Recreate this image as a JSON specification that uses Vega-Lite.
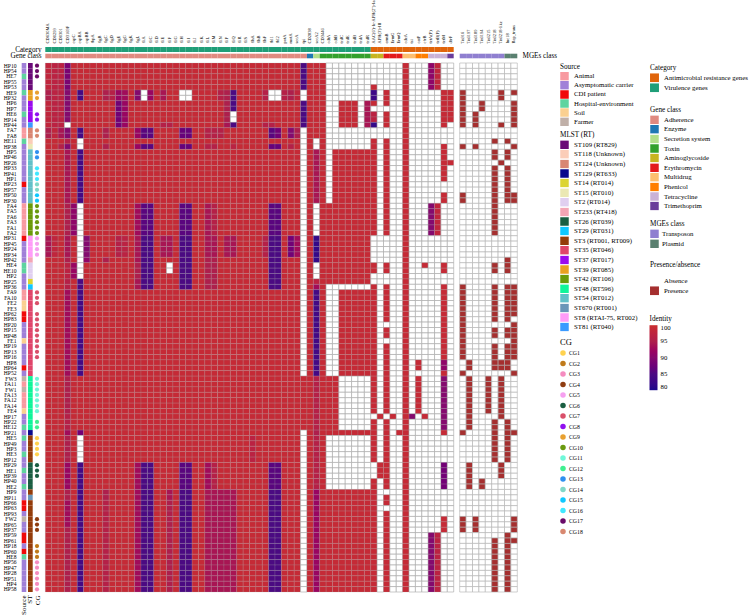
{"$schema":"https://vega.github.io/schema/vega-lite/v6.json","width":750,"height":616,"padding":0,"autosize":{"type":"none"},"background":"white",
"config":{"view":{"stroke":null},"axis":{"domain":false,"ticks":false,"grid":false,"labelFont":"Liberation Serif","labelColor":"#000","title":null,"labelPadding":0,"labelOverlap":false,"labelBound":false,"labelFlush":false},"legend":{"orient":"none","titleFont":"Liberation Serif","labelFont":"Liberation Serif","titleFontWeight":"normal","titleFontSize":7.2,"titleColor":"#000","labelColor":"#000","labelFontSize":6.8,"labelLimit":200,"symbolStrokeWidth":0,"symbolOpacity":1,"titlePadding":2,"labelOffset":5,"clipHeight":9,"padding":0}},
"datasets":{
"genes":[{"i":1,"g":"CD630MA","cat":"Virulence genes","cls":"Adherence"},{"i":2,"g":"CD0299","cat":"Virulence genes","cls":"Adherence"},{"i":3,"g":"CD0301","cat":"Virulence genes","cls":"Adherence"},{"i":4,"g":"CD3169F","cat":"Virulence genes","cls":"Adherence"},{"i":5,"g":"cspC","cat":"Virulence genes","cls":"Adherence"},{"i":6,"g":"cspBA","cat":"Virulence genes","cls":"Adherence"},{"i":7,"g":"cspBB","cat":"Virulence genes","cls":"Adherence"},{"i":8,"g":"fbpA","cat":"Virulence genes","cls":"Adherence"},{"i":9,"g":"flgB","cat":"Virulence genes","cls":"Adherence"},{"i":10,"g":"flgC","cat":"Virulence genes","cls":"Adherence"},{"i":11,"g":"flgD","cat":"Virulence genes","cls":"Adherence"},{"i":12,"g":"flgE","cat":"Virulence genes","cls":"Adherence"},{"i":13,"g":"flgG","cat":"Virulence genes","cls":"Adherence"},{"i":14,"g":"flgK","cat":"Virulence genes","cls":"Adherence"},{"i":15,"g":"flgL","cat":"Virulence genes","cls":"Adherence"},{"i":16,"g":"fliA","cat":"Virulence genes","cls":"Adherence"},{"i":17,"g":"fliC","cat":"Virulence genes","cls":"Adherence"},{"i":18,"g":"fliD","cat":"Virulence genes","cls":"Adherence"},{"i":19,"g":"fliE","cat":"Virulence genes","cls":"Adherence"},{"i":20,"g":"fliF","cat":"Virulence genes","cls":"Adherence"},{"i":21,"g":"fliG","cat":"Virulence genes","cls":"Adherence"},{"i":22,"g":"fliH","cat":"Virulence genes","cls":"Adherence"},{"i":23,"g":"fliI","cat":"Virulence genes","cls":"Adherence"},{"i":24,"g":"fliJ","cat":"Virulence genes","cls":"Adherence"},{"i":25,"g":"fliK","cat":"Virulence genes","cls":"Adherence"},{"i":26,"g":"fliL","cat":"Virulence genes","cls":"Adherence"},{"i":27,"g":"fliM","cat":"Virulence genes","cls":"Adherence"},{"i":28,"g":"fliN","cat":"Virulence genes","cls":"Adherence"},{"i":29,"g":"fliP","cat":"Virulence genes","cls":"Adherence"},{"i":30,"g":"fliQ","cat":"Virulence genes","cls":"Adherence"},{"i":31,"g":"fliR","cat":"Virulence genes","cls":"Adherence"},{"i":32,"g":"fliS","cat":"Virulence genes","cls":"Adherence"},{"i":33,"g":"flhA","cat":"Virulence genes","cls":"Adherence"},{"i":34,"g":"flhB","cat":"Virulence genes","cls":"Adherence"},{"i":35,"g":"flhF","cat":"Virulence genes","cls":"Adherence"},{"i":36,"g":"fbl1","cat":"Virulence genes","cls":"Adherence"},{"i":37,"g":"fbl2","cat":"Virulence genes","cls":"Adherence"},{"i":38,"g":"potA","cat":"Virulence genes","cls":"Adherence"},{"i":39,"g":"motA","cat":"Virulence genes","cls":"Adherence"},{"i":40,"g":"secA","cat":"Virulence genes","cls":"Adherence"},{"i":41,"g":"tpi","cat":"Virulence genes","cls":"Adherence"},{"i":42,"g":"CD2838","cat":"Virulence genes","cls":"Enzyme"},{"i":43,"g":"secA2","cat":"Virulence genes","cls":"Secretion system"},{"i":44,"g":"CD3446","cat":"Virulence genes","cls":"Toxin"},{"i":45,"g":"cdtA","cat":"Virulence genes","cls":"Toxin"},{"i":46,"g":"cdtB","cat":"Virulence genes","cls":"Toxin"},{"i":47,"g":"tcdC","cat":"Virulence genes","cls":"Toxin"},{"i":48,"g":"tcdE","cat":"Virulence genes","cls":"Toxin"},{"i":49,"g":"tcdB","cat":"Virulence genes","cls":"Toxin"},{"i":50,"g":"tcdA","cat":"Virulence genes","cls":"Toxin"},{"i":51,"g":"tcdR","cat":"Virulence genes","cls":"Toxin"},{"i":52,"g":"AAC(6')-Ie-APH(2'')-Ia","cat":"Antimicrobial resistance genes","cls":"Aminoglycoside"},{"i":53,"g":"APH(3')-III","cat":"Antimicrobial resistance genes","cls":"Aminoglycoside"},{"i":54,"g":"ermB","cat":"Antimicrobial resistance genes","cls":"Erythromycin"},{"i":55,"g":"ErmG","cat":"Antimicrobial resistance genes","cls":"Erythromycin"},{"i":56,"g":"ErmQ","cat":"Antimicrobial resistance genes","cls":"Erythromycin"},{"i":57,"g":"cdeA","cat":"Antimicrobial resistance genes","cls":"Multidrug"},{"i":58,"g":"tsi","cat":"Antimicrobial resistance genes","cls":"Multidrug"},{"i":59,"g":"catP","cat":"Antimicrobial resistance genes","cls":"Phenicol"},{"i":60,"g":"cfrB","cat":"Antimicrobial resistance genes","cls":"Phenicol"},{"i":61,"g":"tetA(P)","cat":"Antimicrobial resistance genes","cls":"Tetracycline"},{"i":62,"g":"tetB(P)","cat":"Antimicrobial resistance genes","cls":"Tetracycline"},{"i":63,"g":"tetM","cat":"Antimicrobial resistance genes","cls":"Tetracycline"},{"i":64,"g":"dfrF","cat":"Antimicrobial resistance genes","cls":"Trimethoprim"}],
"mges":[{"i":1,"g":"Tn916","mge":"Transposon"},{"i":2,"g":"Tn6197","mge":"Transposon"},{"i":3,"g":"Tn6189","mge":"Transposon"},{"i":4,"g":"Tn6194","mge":"Transposon"},{"i":5,"g":"Tn6215","mge":"Transposon"},{"i":6,"g":"Tn6218","mge":"Transposon"},{"i":7,"g":"Tn6218-like","mge":"Transposon"},{"i":8,"g":"Inc18","mge":"Plasmid"},{"i":9,"g":"Rep_trans","mge":"Plasmid"}],
"samples":[
{"s":"HP10","src":"Asymptomatic carrier","st":"ST109 (RT829)","cg":"CG17","h":[98,97,97,89,99,99,99,99,99,99,99,99,99,99,99,99,99,99,99,99,99,99,99,99,99,99,99,99,99,99,99,99,99,99,99,99,99,99,99,99,85,99,99,99,0,0,0,0,0,0,0,0,0,0,0,0,99,0,0,0,91,98,0,0],"p":[0,0,0,0,0,0,0,0,0]},
{"s":"HP54","src":"Asymptomatic carrier","st":"ST109 (RT829)","cg":"CG17","h":[98,97,97,89,99,99,99,99,99,99,99,99,99,99,99,99,99,99,99,99,99,99,99,99,99,99,99,99,99,99,99,99,99,99,99,99,99,99,99,99,85,99,99,99,0,0,0,0,0,0,0,0,0,0,0,0,99,0,0,0,91,98,0,0],"p":[0,0,0,0,0,0,0,0,0]},
{"s":"HE7","src":"Hospital-environment","st":"ST109 (RT829)","cg":"CG17","h":[98,97,97,89,99,99,99,99,99,99,99,99,99,99,99,99,99,99,99,99,99,99,99,99,99,99,99,99,99,99,99,99,99,99,99,99,99,99,99,99,85,99,99,99,0,0,0,0,0,0,0,0,0,0,0,0,99,0,0,0,91,98,0,0],"p":[0,0,0,0,0,0,0,0,0]},
{"s":"HP55","src":"Asymptomatic carrier","st":"ST109 (RT829)","cg":"","h":[98,97,97,89,99,99,99,99,99,99,99,99,99,99,99,99,99,99,99,99,99,99,99,99,99,99,99,99,99,99,99,99,99,99,99,99,99,99,99,99,85,99,99,99,0,0,0,0,0,0,0,0,0,0,0,0,99,0,0,0,91,98,0,0],"p":[0,0,0,0,0,0,0,0,0]},
{"s":"HP53","src":"Asymptomatic carrier","st":"ST109 (RT829)","cg":"","h":[98,97,97,89,99,99,99,99,99,99,99,99,99,99,99,99,99,99,99,99,99,99,99,99,99,99,99,99,99,99,99,99,99,99,99,99,99,99,99,99,85,99,99,99,0,0,0,0,0,0,0,99,0,0,0,0,99,0,0,0,91,98,0,0],"p":[0,0,0,0,0,0,0,0,0]},
{"s":"HE9","src":"Hospital-environment","st":"ST39 (RT085)","cg":"CG9","h":[95,97,97,90,99,84,99,99,99,95,96,92,93,99,90,0,92,99,94,99,99,0,0,99,99,99,99,96,95,85,99,99,99,99,96,0,0,96,95,98,0,99,99,99,0,0,0,0,0,0,0,83,0,99,0,0,99,0,0,0,0,0,99,99],"p":[1,0,0,0,0,0,1,0,1]},
{"s":"HP32","src":"Asymptomatic carrier","st":"ST39 (RT085)","cg":"CG9","h":[95,97,97,90,99,84,99,99,99,95,96,92,93,99,90,0,92,99,94,99,99,0,0,99,99,99,99,96,95,85,99,99,99,99,96,0,0,96,95,98,0,99,99,99,0,0,0,0,0,0,0,83,0,99,0,0,99,0,0,0,0,0,99,99],"p":[1,0,0,0,0,0,1,0,0]},
{"s":"HP6","src":"Asymptomatic carrier","st":"ST37 (RT017)","cg":"","h":[98,97,97,90,99,99,99,99,99,99,99,88,92,99,99,99,99,99,99,99,99,99,99,99,99,99,99,99,95,85,99,99,99,99,99,99,99,99,99,99,85,99,99,99,0,0,99,99,99,0,94,99,0,99,0,0,99,0,0,0,0,0,99,99],"p":[1,0,0,1,0,0,0,0,1]},
{"s":"HP7","src":"Asymptomatic carrier","st":"ST37 (RT017)","cg":"","h":[98,97,97,90,99,99,99,99,99,99,99,88,92,99,99,99,99,99,99,99,99,99,99,99,99,99,99,99,95,85,99,99,99,99,99,99,99,99,99,99,85,99,99,99,0,0,99,99,99,0,94,0,0,0,0,0,99,0,0,0,0,0,99,99],"p":[1,0,0,1,0,0,0,0,1]},
{"s":"HE6","src":"Hospital-environment","st":"ST37 (RT017)","cg":"CG8","h":[98,97,97,90,99,99,99,99,99,99,99,88,92,99,99,99,99,99,99,99,99,99,99,99,99,99,99,99,95,0,99,99,99,99,99,99,99,99,99,99,85,99,99,99,0,0,99,99,99,0,94,97,0,99,0,0,99,0,0,0,0,0,99,99],"p":[1,0,1,0,0,0,0,0,1]},
{"s":"HP14","src":"Asymptomatic carrier","st":"ST37 (RT017)","cg":"CG8","h":[98,97,97,90,99,99,99,99,99,99,99,88,92,99,99,99,99,99,99,99,99,99,99,99,99,99,99,99,95,0,99,99,99,99,99,99,99,99,99,99,85,99,99,99,0,0,99,99,99,0,94,97,0,99,0,0,99,0,0,0,0,0,99,99],"p":[1,0,1,0,0,0,0,0,1]},
{"s":"HP44","src":"Asymptomatic carrier","st":"ST81 (RT040)","cg":"","h":[98,97,97,0,99,99,99,99,99,99,99,88,92,99,99,99,99,99,96,96,99,99,99,99,99,99,99,99,94,85,99,99,99,99,96,96,99,99,99,99,85,99,99,99,0,0,99,99,99,0,94,82,0,99,0,0,99,0,0,0,0,0,99,0],"p":[1,0,1,0,0,0,1,0,1]},
{"s":"FA7","src":"Animal","st":"ST124 (Unknown)","cg":"CG18","h":[95,98,94,90,99,84,99,99,99,95,99,99,99,99,92,86,86,99,99,99,99,87,87,99,99,96,96,96,99,99,99,99,99,99,99,86,88,99,90,95,0,99,99,99,0,0,0,0,0,0,0,0,0,0,0,0,99,0,0,0,0,0,0,0],"p":[0,0,0,0,0,0,0,0,0]},
{"s":"FA8","src":"Animal","st":"ST124 (Unknown)","cg":"CG18","h":[95,98,94,90,99,84,99,99,99,95,99,99,99,99,92,86,86,99,99,99,99,87,87,99,99,96,96,96,99,99,99,99,99,99,99,86,88,99,90,95,0,99,99,99,0,0,0,0,0,0,0,0,0,0,0,0,99,0,0,0,0,0,0,0],"p":[0,0,0,0,0,0,0,0,0]},
{"s":"HE11","src":"Hospital-environment","st":"ST118 (Unknown)","cg":"","h":[99,99,99,96,99,0,99,99,99,99,99,99,99,99,99,99,99,99,99,99,99,99,99,99,99,99,99,99,99,99,99,99,99,99,99,99,99,99,99,99,0,99,0,99,0,0,0,0,0,0,0,99,0,99,0,0,99,0,0,0,0,0,0,0],"p":[0,0,0,0,0,1,0,1,0]},
{"s":"HP38","src":"Asymptomatic carrier","st":"ST15 (RT010)","cg":"","h":[99,99,96,90,99,0,99,99,99,95,99,99,99,99,92,86,86,99,99,99,99,87,87,99,99,96,96,99,99,97,99,99,99,99,99,87,87,99,96,99,0,99,0,99,0,0,0,0,0,0,0,99,0,99,0,0,99,0,0,0,0,0,99,0],"p":[1,0,1,0,0,0,0,0,1]},
{"s":"HP5","src":"Asymptomatic carrier","st":"ST54 (RT012)","cg":"CG13","h":[99,99,99,94,99,84,99,99,99,99,99,99,99,99,99,99,99,99,99,99,99,99,99,99,99,99,99,99,99,99,99,99,99,99,99,99,99,99,99,99,0,99,94,99,0,99,99,99,99,99,99,99,0,99,0,0,99,0,0,0,0,0,99,0],"p":[0,0,0,0,0,1,0,1,0]},
{"s":"HP46","src":"Asymptomatic carrier","st":"ST54 (RT012)","cg":"CG13","h":[99,99,99,94,99,84,99,99,99,99,99,99,99,99,99,99,99,99,99,99,99,99,99,99,99,99,99,99,99,99,99,99,99,99,99,99,99,99,99,99,0,99,94,99,0,99,99,99,99,99,99,99,0,99,0,0,99,0,0,0,0,0,99,0],"p":[0,0,0,0,0,1,0,1,0]},
{"s":"HP26","src":"Asymptomatic carrier","st":"ST54 (RT012)","cg":"","h":[99,99,99,94,99,84,99,99,99,99,99,99,99,99,99,99,99,99,99,99,99,99,99,99,99,99,99,99,99,99,99,99,99,99,99,99,99,99,99,99,0,99,94,99,0,99,99,99,99,99,99,99,0,99,0,0,99,0,0,0,0,0,99,99],"p":[0,0,0,0,0,0,1,0,0]},
{"s":"HP33","src":"Asymptomatic carrier","st":"ST54 (RT012)","cg":"CG16","h":[99,99,99,94,99,84,99,99,99,99,99,99,99,99,99,99,99,99,99,99,99,99,99,99,99,99,99,99,99,99,99,99,99,99,99,99,99,99,99,99,0,99,94,99,0,99,99,99,99,99,99,99,0,99,0,0,99,0,0,0,0,0,99,0],"p":[0,0,0,0,0,1,0,1,0]},
{"s":"HP41","src":"Asymptomatic carrier","st":"ST54 (RT012)","cg":"CG16","h":[99,99,99,94,99,84,99,99,99,99,99,99,99,99,99,99,99,99,99,99,99,99,99,99,99,99,99,99,99,99,99,99,99,99,99,99,99,99,99,99,0,99,94,99,0,99,99,99,99,99,99,99,0,99,0,0,99,0,0,0,0,0,99,0],"p":[0,0,0,0,0,1,0,1,0]},
{"s":"HP1","src":"Asymptomatic carrier","st":"ST54 (RT012)","cg":"CG16","h":[99,99,99,94,99,84,99,99,99,99,99,99,99,99,99,99,99,99,99,99,99,99,99,99,99,99,99,99,99,99,99,99,99,99,99,99,99,99,99,99,0,99,94,99,0,99,99,99,99,99,99,99,0,99,0,0,99,0,0,0,0,0,99,0],"p":[0,0,0,0,0,1,0,1,0]},
{"s":"HP23","src":"CDI patient","st":"ST54 (RT012)","cg":"CG14","h":[99,99,99,94,99,84,99,99,99,99,99,99,99,99,99,99,99,99,99,99,99,99,99,99,99,99,99,99,99,99,99,99,99,99,99,99,99,99,99,99,0,99,94,99,0,99,99,99,99,99,99,99,0,99,0,0,99,0,0,0,0,0,0,0],"p":[0,0,0,0,0,1,0,1,0]},
{"s":"HP57","src":"Asymptomatic carrier","st":"ST54 (RT012)","cg":"CG14","h":[99,99,99,94,99,84,99,99,99,99,99,99,99,99,99,99,99,99,99,99,99,99,99,99,99,99,99,99,99,99,99,99,99,99,99,99,99,99,99,99,0,99,94,99,0,99,99,99,99,99,99,99,0,99,0,0,99,0,0,0,0,0,0,0],"p":[0,0,0,0,0,1,0,1,0]},
{"s":"HP50","src":"Asymptomatic carrier","st":"ST54 (RT012)","cg":"CG15","h":[99,99,99,94,99,84,99,99,99,99,99,99,99,99,99,99,99,99,99,99,99,99,99,99,99,99,99,99,99,99,99,99,99,99,99,99,99,99,99,99,0,99,94,99,0,99,99,99,99,99,99,99,0,99,0,0,99,0,0,0,0,0,99,0],"p":[1,0,0,0,0,1,0,1,1]},
{"s":"HP30","src":"Asymptomatic carrier","st":"ST54 (RT012)","cg":"CG15","h":[99,99,99,94,99,84,99,99,99,99,99,99,99,99,99,99,99,99,99,99,99,99,99,99,99,99,99,99,99,99,99,99,99,99,99,99,99,99,99,99,0,99,94,99,0,99,99,99,99,99,99,99,0,99,0,0,99,0,0,0,0,0,99,0],"p":[1,0,0,0,0,1,0,1,1]},
{"s":"FA4","src":"Animal","st":"ST42 (RT106)","cg":"CG10","h":[99,99,99,95,91,0,99,99,99,99,99,99,99,99,93,86,86,99,99,99,99,86,86,99,99,94,96,99,99,99,99,99,99,99,99,86,86,99,99,99,0,99,0,99,99,99,99,99,99,99,99,99,0,99,0,0,99,0,0,0,90,98,0,0],"p":[0,0,0,0,0,1,0,0,0]},
{"s":"FA5","src":"Animal","st":"ST42 (RT106)","cg":"CG10","h":[99,99,99,95,91,0,99,99,99,99,99,99,99,99,93,86,86,99,99,99,99,86,86,99,99,94,96,99,99,99,99,99,99,99,99,86,86,99,99,99,0,99,0,99,99,99,99,99,99,99,99,99,0,99,0,0,99,0,0,0,90,98,0,0],"p":[0,0,0,0,0,1,0,0,0]},
{"s":"FA6","src":"Animal","st":"ST42 (RT106)","cg":"CG10","h":[99,99,99,95,91,0,99,99,99,99,99,99,99,99,93,86,86,99,99,99,99,86,86,99,99,94,96,99,99,99,99,99,99,99,99,86,86,99,99,99,0,99,0,99,99,99,99,99,99,99,99,99,0,99,0,0,99,0,0,0,90,98,0,0],"p":[0,0,0,0,0,1,0,0,0]},
{"s":"FA3","src":"Animal","st":"ST42 (RT106)","cg":"CG10","h":[99,99,99,95,91,0,99,99,99,99,99,99,99,99,93,86,86,99,99,99,99,86,86,99,99,94,96,99,99,99,99,99,99,99,99,86,86,99,99,99,0,99,0,99,99,99,99,99,99,99,99,99,0,99,0,0,99,0,0,0,90,98,0,0],"p":[0,0,0,0,0,1,0,0,0]},
{"s":"FA1","src":"Animal","st":"ST42 (RT106)","cg":"CG10","h":[99,99,99,95,91,0,99,99,99,99,99,99,99,99,93,86,86,99,99,99,99,86,86,99,99,94,96,99,99,99,99,99,99,99,99,86,86,99,99,99,0,99,0,99,99,99,99,99,99,99,99,99,0,99,0,0,99,0,0,0,90,98,0,0],"p":[0,0,0,0,0,1,0,0,0]},
{"s":"FA2","src":"Animal","st":"ST42 (RT106)","cg":"CG10","h":[99,99,99,95,91,0,99,99,99,99,99,99,99,99,93,86,86,99,99,99,99,86,86,99,99,94,96,99,99,99,99,99,99,99,99,86,86,99,99,99,0,99,0,99,99,99,99,99,99,99,99,99,0,99,0,0,99,0,0,0,90,98,0,0],"p":[0,0,0,0,0,1,0,0,0]},
{"s":"HP31","src":"CDI patient","st":"ST8 (RTAI-75, RT002)","cg":"CG5","h":[94,98,99,94,99,0,90,99,99,99,99,96,97,99,94,85,85,99,94,94,99,85,85,99,99,94,94,99,94,94,99,99,99,99,96,85,85,99,88,93,0,99,82,99,99,99,99,99,99,99,99,0,0,0,0,0,99,0,0,0,0,0,0,0],"p":[0,0,0,0,0,0,0,0,0]},
{"s":"HP45","src":"Asymptomatic carrier","st":"ST8 (RTAI-75, RT002)","cg":"CG5","h":[94,98,99,94,99,0,90,99,99,99,99,96,97,99,94,85,85,99,94,94,99,85,85,99,99,94,94,99,94,94,99,99,99,99,96,85,85,99,88,93,0,99,82,99,99,99,99,99,99,99,99,0,0,0,0,0,99,0,0,0,0,0,0,0],"p":[0,0,0,0,0,0,0,0,0]},
{"s":"HP24","src":"Asymptomatic carrier","st":"ST8 (RTAI-75, RT002)","cg":"CG5","h":[94,98,99,94,99,0,90,99,99,99,99,96,97,99,94,85,85,99,94,94,99,85,85,99,99,94,94,99,94,94,99,99,99,99,96,85,85,99,88,93,0,99,82,99,99,99,99,99,99,99,99,0,0,0,0,0,99,0,0,0,0,0,0,0],"p":[0,0,0,0,0,0,0,0,0]},
{"s":"HP34","src":"Asymptomatic carrier","st":"ST8 (RTAI-75, RT002)","cg":"CG5","h":[94,98,99,94,99,0,90,99,99,99,99,96,97,99,94,85,85,99,94,94,99,85,85,99,99,94,94,99,94,94,99,99,99,99,96,85,85,99,88,93,0,99,82,99,99,99,99,99,99,99,99,0,0,0,0,0,99,0,0,0,0,0,0,0],"p":[0,0,0,0,0,0,0,0,0]},
{"s":"HP42","src":"Asymptomatic carrier","st":"ST233 (RT418)","cg":"","h":[99,99,99,95,99,0,91,99,99,95,99,99,99,99,94,85,85,99,99,99,99,85,85,99,99,95,95,99,99,99,99,99,99,99,99,85,85,99,99,99,0,99,82,99,99,99,99,99,99,99,99,0,0,0,0,0,99,0,0,0,0,0,0,0],"p":[0,0,0,0,0,0,0,1,0]},
{"s":"HE4","src":"Hospital-environment","st":"ST2 (RT014)","cg":"","h":[99,99,99,97,92,0,99,99,99,99,99,99,99,99,95,85,85,99,99,0,99,85,85,99,99,95,95,99,99,99,99,99,99,99,99,85,85,99,99,99,0,99,0,99,99,99,99,99,99,99,99,99,0,99,0,0,99,0,0,99,0,0,99,0],"p":[0,0,0,0,0,1,0,1,0]},
{"s":"HE10","src":"Hospital-environment","st":"ST2 (RT014)","cg":"","h":[99,99,99,97,92,0,99,99,99,99,99,99,99,99,95,85,85,99,99,0,99,85,85,99,99,95,95,99,99,99,99,99,99,99,99,85,85,99,99,99,0,99,0,99,99,99,99,99,99,99,99,99,0,99,0,0,99,0,0,0,0,0,99,0],"p":[0,0,0,0,0,1,0,1,0]},
{"s":"HP2","src":"Asymptomatic carrier","st":"ST2 (RT014)","cg":"","h":[99,99,99,97,92,0,99,99,99,99,99,99,99,99,95,85,85,99,99,99,99,85,85,99,99,95,95,99,99,99,99,99,99,99,99,85,85,99,99,99,0,99,0,99,99,99,99,99,99,99,99,0,0,0,0,0,99,0,0,0,0,0,0,0],"p":[0,0,0,0,0,0,0,0,0]},
{"s":"HP25","src":"Asymptomatic carrier","st":"ST14 (RT014)","cg":"","h":[99,99,99,96,99,85,99,99,99,99,99,99,99,99,94,85,85,99,99,99,99,85,85,99,99,95,95,99,99,99,99,99,99,99,99,85,85,99,99,99,0,99,97,99,99,99,99,99,99,99,99,0,0,0,0,0,99,0,0,0,0,0,0,0],"p":[0,0,0,0,0,0,0,0,0]},
{"s":"HP36","src":"Asymptomatic carrier","st":"ST29 (RT031)","cg":"","h":[99,99,99,96,99,85,99,99,99,99,99,99,99,99,94,85,85,99,99,99,99,85,85,99,99,95,95,99,99,99,99,99,99,99,99,85,85,99,99,99,0,99,93,99,0,0,0,0,0,0,0,99,0,99,0,0,99,0,0,0,0,0,99,0],"p":[1,0,0,0,0,1,0,1,1]},
{"s":"FA9","src":"Animal","st":"ST35 (RT046)","cg":"CG7","h":[99,99,99,93,99,84,99,99,99,99,99,99,99,99,99,99,99,99,99,99,99,99,99,99,99,99,99,99,99,99,99,99,99,99,99,99,99,99,99,99,0,99,84,99,0,0,99,99,99,99,99,99,0,99,0,0,99,0,0,0,0,0,99,0],"p":[1,0,0,0,0,1,0,1,1]},
{"s":"FA10","src":"Animal","st":"ST35 (RT046)","cg":"CG7","h":[99,99,99,93,99,84,99,99,99,99,99,99,99,99,99,99,99,99,99,99,99,99,99,99,99,99,99,99,99,99,99,99,99,99,99,99,99,99,99,99,0,99,84,99,0,0,99,99,99,99,99,99,0,99,0,0,99,0,0,0,0,0,99,0],"p":[1,0,0,0,0,1,0,1,1]},
{"s":"FE2","src":"Soil","st":"ST35 (RT046)","cg":"CG7","h":[99,99,99,93,99,84,99,99,99,99,99,99,99,99,99,99,99,99,99,99,99,99,99,99,99,99,99,99,99,99,99,99,99,99,99,99,99,99,99,99,0,99,84,99,0,0,99,99,99,99,99,99,0,99,0,0,99,0,0,0,0,0,99,0],"p":[1,0,0,0,0,1,0,1,1]},
{"s":"FE3","src":"Soil","st":"ST35 (RT046)","cg":"","h":[99,99,99,93,99,84,99,99,99,99,99,99,99,99,99,99,99,99,99,99,99,99,99,99,99,99,99,99,99,99,99,99,99,99,99,99,99,99,99,99,0,99,84,99,0,0,99,99,99,99,99,99,0,99,0,0,99,0,0,0,0,0,99,0],"p":[1,0,0,0,0,1,0,1,1]},
{"s":"HP62","src":"CDI patient","st":"ST35 (RT046)","cg":"CG7","h":[99,99,99,93,99,84,99,99,99,99,99,99,99,99,99,99,99,99,99,99,99,99,99,99,99,99,99,99,99,99,99,99,99,99,99,99,99,99,99,99,0,99,84,99,0,0,99,99,99,99,99,99,0,99,0,0,99,0,0,0,0,0,99,0],"p":[1,0,0,0,0,1,0,1,1]},
{"s":"HP83","src":"CDI patient","st":"ST35 (RT046)","cg":"CG7","h":[99,99,99,93,99,84,99,99,99,99,99,99,99,99,99,99,99,99,99,99,99,99,99,99,99,99,99,99,99,99,99,99,99,99,99,99,99,99,99,99,0,99,84,99,0,0,99,99,99,99,99,99,0,99,0,0,99,0,0,0,0,0,99,0],"p":[1,0,0,0,0,1,0,1,0]},
{"s":"HP20","src":"Asymptomatic carrier","st":"ST35 (RT046)","cg":"CG7","h":[99,99,99,93,99,84,99,99,99,99,99,99,99,99,99,99,99,99,99,99,99,99,99,99,99,99,99,99,99,99,99,99,99,99,99,99,99,99,99,99,0,99,84,99,0,0,99,99,99,99,99,99,0,0,0,0,99,0,0,0,0,0,99,0],"p":[1,0,0,0,0,0,0,0,1]},
{"s":"HP15","src":"Asymptomatic carrier","st":"ST35 (RT046)","cg":"CG7","h":[99,99,99,93,99,84,99,99,99,99,99,99,99,99,99,99,99,99,99,99,99,99,99,99,99,99,99,99,99,99,99,99,99,99,99,99,99,99,99,99,0,99,84,99,0,0,99,99,99,99,99,99,0,99,0,0,99,0,0,0,0,0,99,0],"p":[1,0,0,0,0,1,0,1,1]},
{"s":"HP48","src":"Asymptomatic carrier","st":"ST35 (RT046)","cg":"CG7","h":[99,99,99,93,99,84,99,99,99,99,99,99,99,99,99,99,99,99,99,99,99,99,99,99,99,99,99,99,99,99,99,99,99,99,99,99,99,99,99,99,0,99,84,99,0,0,99,99,99,99,99,99,0,99,0,0,99,0,0,0,0,0,99,0],"p":[1,0,0,0,0,1,0,1,1]},
{"s":"FE1","src":"Soil","st":"ST35 (RT046)","cg":"CG7","h":[99,99,99,93,99,84,99,99,99,99,99,99,99,99,99,99,99,99,99,99,99,99,99,99,99,99,99,99,99,99,99,99,99,99,99,99,99,99,99,99,0,99,84,99,0,0,99,99,99,99,99,99,0,0,0,0,99,0,0,0,0,0,99,0],"p":[1,0,0,0,0,0,0,0,1]},
{"s":"HP19","src":"Asymptomatic carrier","st":"ST35 (RT046)","cg":"CG7","h":[99,99,99,93,99,84,99,99,99,99,99,99,99,99,99,99,99,99,99,99,99,99,99,99,99,99,99,99,99,99,99,99,99,99,99,99,99,99,99,99,0,99,84,99,0,0,99,99,99,99,99,99,0,99,0,0,99,0,0,0,0,0,99,0],"p":[1,0,0,0,0,1,0,1,1]},
{"s":"HP13","src":"Asymptomatic carrier","st":"ST35 (RT046)","cg":"CG7","h":[99,99,99,93,99,84,99,99,99,99,99,99,99,99,99,99,99,99,99,99,99,99,99,99,99,99,99,99,99,99,99,99,99,99,99,99,99,99,99,99,0,99,84,99,0,0,99,99,99,99,99,99,0,99,0,0,99,0,0,0,0,0,99,0],"p":[1,0,0,0,0,1,0,1,1]},
{"s":"HP16","src":"Asymptomatic carrier","st":"ST35 (RT046)","cg":"CG7","h":[99,99,99,93,99,84,99,99,99,99,99,99,99,99,99,99,99,99,99,99,99,99,99,99,99,99,99,99,99,99,99,99,99,99,99,99,99,99,99,99,0,99,84,99,0,0,99,99,99,99,99,99,0,99,0,0,99,0,0,0,0,0,99,0],"p":[1,0,0,0,0,1,0,1,1]},
{"s":"HP8","src":"Asymptomatic carrier","st":"ST35 (RT046)","cg":"","h":[99,99,99,93,99,84,99,99,99,99,99,99,99,99,99,99,99,99,99,99,99,99,99,99,99,99,99,99,99,99,99,99,99,99,99,99,99,99,99,99,0,99,84,99,0,0,99,99,99,99,99,99,0,99,0,0,99,0,99,0,0,0,91,0],"p":[0,1,0,0,0,1,1,1,0]},
{"s":"HP64","src":"CDI patient","st":"ST35 (RT046)","cg":"","h":[99,99,99,93,99,84,99,99,99,99,99,99,99,99,99,99,99,99,99,99,99,99,99,99,99,99,99,99,99,99,99,99,99,99,99,99,99,99,99,99,0,99,84,99,0,0,99,99,99,99,99,99,0,99,0,0,99,0,99,0,0,0,91,0],"p":[0,1,0,0,0,1,1,1,0]},
{"s":"HP52","src":"Asymptomatic carrier","st":"ST35 (RT046)","cg":"","h":[99,99,99,93,99,84,99,99,99,99,99,99,99,99,99,99,99,99,99,99,99,99,99,99,99,99,99,99,99,99,99,99,99,99,99,99,99,99,99,99,0,99,84,99,0,0,99,99,99,99,99,99,0,99,0,0,99,0,0,0,0,0,99,0],"p":[1,0,0,0,0,0,0,0,1]},
{"s":"FW3","src":"Farmer","st":"ST48 (RT596)","cg":"CG11","h":[99,99,99,95,99,99,99,99,99,99,99,99,99,99,99,99,99,99,99,99,99,99,99,99,99,99,99,99,99,99,99,99,99,99,99,99,99,99,99,99,99,99,96,99,99,99,0,0,0,0,0,99,0,99,0,0,99,0,99,0,0,0,90,0],"p":[0,1,0,0,1,0,1,0,0]},
{"s":"FA11","src":"Animal","st":"ST48 (RT596)","cg":"CG11","h":[99,99,99,95,99,99,99,99,99,99,99,99,99,99,99,99,99,99,99,99,99,99,99,99,99,99,99,99,99,99,99,99,99,99,99,99,99,99,99,99,99,99,96,99,99,99,0,0,0,0,0,99,0,99,0,0,99,0,99,0,0,0,90,0],"p":[0,1,0,0,1,0,1,0,0]},
{"s":"FW1","src":"Farmer","st":"ST48 (RT596)","cg":"CG11","h":[99,99,99,95,99,99,99,99,99,99,99,99,99,99,99,99,99,99,99,99,99,99,99,99,99,99,99,99,99,99,99,99,99,99,99,99,99,99,99,99,99,99,96,99,99,99,0,0,0,0,0,99,0,99,0,0,99,0,99,0,0,0,90,0],"p":[0,1,0,0,1,0,1,0,0]},
{"s":"FA13","src":"Animal","st":"ST48 (RT596)","cg":"CG11","h":[99,99,99,95,99,99,99,99,99,99,99,99,99,99,99,99,99,99,99,99,99,99,99,99,99,99,99,99,99,99,99,99,99,99,99,99,99,99,99,99,99,99,96,99,99,99,0,0,0,0,0,99,0,99,0,0,99,0,99,0,0,0,90,0],"p":[0,1,0,0,1,0,1,0,0]},
{"s":"FA12","src":"Animal","st":"ST48 (RT596)","cg":"CG11","h":[99,99,99,95,99,99,99,99,99,99,99,99,99,99,99,99,99,99,99,99,99,99,99,99,99,99,99,99,99,99,99,99,99,99,99,99,99,99,99,99,99,99,96,99,99,99,0,0,0,0,0,99,0,99,0,0,99,0,99,0,0,0,90,0],"p":[0,1,0,0,1,0,1,0,0]},
{"s":"FA14","src":"Animal","st":"ST48 (RT596)","cg":"CG11","h":[99,99,99,95,99,99,99,99,99,99,99,99,99,99,99,99,99,99,99,99,99,99,99,99,99,99,99,99,99,99,99,99,99,99,99,99,99,99,99,99,99,99,96,99,99,99,0,0,0,0,0,99,0,99,0,0,99,0,99,0,0,0,90,0],"p":[0,1,0,0,1,0,1,0,0]},
{"s":"FE4","src":"Soil","st":"ST48 (RT596)","cg":"CG11","h":[99,99,99,95,99,99,99,99,99,99,99,99,99,99,99,99,99,99,99,99,99,99,99,99,99,99,99,99,99,99,99,99,99,99,99,99,99,99,99,99,99,99,96,99,99,99,0,0,0,0,0,99,0,99,0,0,99,0,99,0,0,0,90,0],"p":[0,1,0,0,1,0,1,0,0]},
{"s":"HP17","src":"Asymptomatic carrier","st":"ST48 (RT596)","cg":"","h":[99,99,99,96,99,99,99,99,99,99,99,99,99,99,99,99,99,99,99,99,99,99,99,99,99,99,99,99,99,99,99,99,99,99,99,99,99,99,99,99,99,99,96,99,99,99,0,0,0,0,0,0,99,0,99,0,99,90,0,99,0,0,90,0],"p":[0,1,0,0,0,0,1,0,0]},
{"s":"HP22","src":"Asymptomatic carrier","st":"ST48 (RT596)","cg":"CG12","h":[99,99,99,96,99,99,99,99,99,99,99,99,99,99,99,99,99,99,99,99,99,99,99,99,99,99,99,99,99,99,99,99,99,99,99,99,99,99,99,99,99,99,96,99,99,99,0,0,0,0,0,99,0,99,0,0,99,0,0,0,0,0,90,0],"p":[0,1,0,0,0,1,0,1,0]},
{"s":"HE12","src":"Hospital-environment","st":"ST48 (RT596)","cg":"CG12","h":[99,99,99,96,99,99,99,99,99,99,99,99,99,99,99,99,99,99,99,99,99,99,99,99,99,99,99,99,99,99,99,99,99,99,99,99,99,99,99,99,99,99,96,99,99,99,0,0,0,0,0,99,0,99,0,0,99,0,0,0,0,0,90,0],"p":[0,1,0,0,0,1,0,1,0]},
{"s":"HP21","src":"Asymptomatic carrier","st":"ST129 (RT633)","cg":"","h":[99,99,99,93,99,88,99,99,99,99,99,99,99,99,99,99,99,99,99,99,99,99,99,99,99,99,99,99,99,99,99,99,99,99,99,99,99,99,99,99,0,99,95,99,99,99,99,99,99,99,99,99,0,99,0,99,99,0,0,0,0,0,99,0],"p":[1,0,0,0,0,1,0,1,1]},
{"s":"HE5","src":"Hospital-environment","st":"ST3 (RT001, RT009)","cg":"CG1","h":[99,99,99,95,99,0,99,99,99,99,99,99,99,99,99,99,99,99,99,99,99,99,99,99,99,99,99,99,99,99,99,99,97,99,99,99,99,99,99,99,0,99,96,99,0,0,0,0,0,0,0,99,0,99,0,0,99,0,0,0,0,0,0,0],"p":[0,0,0,0,0,1,0,1,0]},
{"s":"HP49","src":"Asymptomatic carrier","st":"ST3 (RT001, RT009)","cg":"CG1","h":[99,99,99,95,99,0,99,99,99,99,99,99,99,99,99,99,99,99,99,99,99,99,99,99,99,99,99,99,99,99,99,99,97,99,99,99,99,99,99,99,0,99,96,99,0,0,0,0,0,0,0,99,0,99,0,0,99,0,0,0,0,0,0,0],"p":[0,0,0,0,0,1,0,1,0]},
{"s":"HP3","src":"Asymptomatic carrier","st":"ST3 (RT001, RT009)","cg":"CG1","h":[99,99,99,95,99,0,99,99,99,99,99,99,99,99,99,99,99,99,99,99,99,99,99,99,99,99,99,99,99,99,99,99,97,99,99,99,99,99,99,99,0,99,96,99,0,0,0,0,0,0,0,99,0,99,0,0,99,0,0,0,0,0,0,0],"p":[0,0,0,0,0,1,0,1,0]},
{"s":"HE3","src":"Hospital-environment","st":"ST3 (RT001, RT009)","cg":"CG1","h":[99,99,99,95,99,0,99,99,99,99,99,99,99,99,99,99,99,99,99,99,99,99,99,99,99,99,99,99,99,99,99,99,97,99,99,99,99,99,99,99,0,99,96,99,0,0,0,0,0,0,0,99,0,99,0,0,99,0,0,0,0,0,0,0],"p":[0,0,0,0,0,1,0,1,0]},
{"s":"HP12","src":"Asymptomatic carrier","st":"ST3 (RT001, RT009)","cg":"","h":[99,99,99,95,99,0,99,99,99,99,99,99,99,99,99,99,99,99,99,99,99,99,99,99,99,99,99,99,99,99,99,99,97,99,99,99,99,99,99,99,0,99,96,99,0,0,0,0,0,0,0,99,0,99,0,0,99,0,0,0,0,0,0,0],"p":[0,0,0,0,0,1,0,1,0]},
{"s":"HP29","src":"Asymptomatic carrier","st":"ST26 (RT039)","cg":"CG6","h":[99,99,99,92,99,84,99,99,99,99,99,99,99,99,93,85,85,99,99,99,99,86,86,99,99,93,96,99,99,99,99,99,99,99,99,86,86,99,99,99,0,99,96,99,0,0,0,0,0,0,0,0,99,99,0,0,99,0,0,0,0,0,88,0],"p":[0,1,0,0,0,0,1,0,0]},
{"s":"HE1","src":"Hospital-environment","st":"ST26 (RT039)","cg":"CG6","h":[99,99,99,92,99,84,99,99,99,99,99,99,99,99,93,85,85,99,99,99,99,86,86,99,99,93,96,99,99,99,99,99,99,99,99,86,86,99,99,99,0,99,96,99,0,0,0,0,0,0,0,0,99,99,0,0,99,0,0,0,0,0,88,0],"p":[0,1,0,0,0,0,1,0,0]},
{"s":"HP39","src":"Asymptomatic carrier","st":"ST26 (RT039)","cg":"CG6","h":[99,99,99,92,99,84,99,99,99,99,99,99,99,99,93,85,85,99,99,99,99,86,86,99,99,93,96,99,99,99,99,99,99,99,99,86,86,99,99,99,0,99,96,99,0,0,0,0,0,0,0,0,99,99,0,0,99,0,0,0,0,0,88,0],"p":[0,1,0,0,0,0,1,0,0]},
{"s":"HP40","src":"Asymptomatic carrier","st":"ST26 (RT039)","cg":"","h":[99,99,99,92,99,84,99,99,99,99,99,99,99,99,93,85,85,99,99,99,99,86,86,99,99,93,96,99,99,99,99,99,99,99,99,86,86,99,99,99,0,99,96,99,0,0,0,0,0,0,0,99,0,99,0,0,99,0,0,0,0,0,88,0],"p":[0,1,0,1,0,0,0,0,0]},
{"s":"HE2","src":"Hospital-environment","st":"ST26 (RT039)","cg":"","h":[99,99,99,92,99,84,99,99,99,99,99,99,99,99,93,85,85,99,99,99,99,86,86,99,99,93,96,99,99,99,99,99,99,99,99,86,86,99,99,99,0,99,96,99,0,0,0,0,0,0,0,99,0,99,0,0,99,0,0,0,0,0,88,0],"p":[0,1,0,1,0,0,0,0,0]},
{"s":"HP9","src":"Asymptomatic carrier","st":"ST3 (RT001, RT009)","cg":"","h":[99,99,99,95,99,84,99,99,99,95,99,99,99,99,93,85,85,99,99,94,99,85,85,99,99,94,94,94,94,94,99,99,99,99,99,85,85,99,99,99,0,99,92,99,99,99,99,99,99,99,99,99,0,0,0,0,99,0,0,0,0,0,0,0],"p":[0,0,0,0,0,0,0,0,0]},
{"s":"HP11","src":"Asymptomatic carrier","st":"ST670 (RT001)","cg":"","h":[99,99,99,95,99,84,99,99,99,95,99,99,99,99,93,85,85,99,99,94,99,85,85,99,99,94,94,94,94,94,99,99,99,99,99,85,85,99,99,99,0,99,92,99,99,99,99,99,99,99,99,99,0,99,0,0,99,0,0,0,0,0,0,0],"p":[0,0,0,0,0,0,0,0,0]},
{"s":"HP66","src":"CDI patient","st":"ST3 (RT001, RT009)","cg":"","h":[99,99,99,93,99,84,99,99,99,96,99,99,99,99,93,85,85,99,99,95,99,85,85,99,99,94,94,94,94,94,99,99,99,99,99,85,85,99,99,99,0,99,92,99,99,99,99,99,99,99,99,99,0,99,0,0,99,0,0,0,0,0,0,0],"p":[0,0,0,0,0,0,0,0,0]},
{"s":"HP63","src":"CDI patient","st":"ST3 (RT001, RT009)","cg":"","h":[99,99,99,93,99,84,99,99,99,96,99,99,99,99,93,85,85,99,99,95,99,85,85,99,99,94,94,94,94,94,99,99,99,99,99,85,85,99,99,99,0,99,92,99,99,99,99,99,99,99,99,99,0,0,0,0,99,0,0,0,0,0,0,0],"p":[0,0,0,0,0,0,0,0,0]},
{"s":"HP93","src":"Asymptomatic carrier","st":"ST3 (RT001, RT009)","cg":"","h":[99,99,99,93,99,84,99,99,99,96,99,99,99,99,93,85,85,99,99,95,99,85,85,99,99,94,94,94,94,94,99,99,99,99,99,85,85,99,99,99,0,99,92,99,99,99,99,99,99,99,99,99,0,99,0,0,99,0,0,0,0,0,0,0],"p":[0,0,0,0,0,0,0,0,0]},
{"s":"FW2","src":"Farmer","st":"ST3 (RT001, RT009)","cg":"CG4","h":[99,99,99,93,99,84,99,99,99,96,99,99,99,99,93,85,85,99,99,95,99,85,85,99,99,94,94,94,94,94,99,99,99,99,99,85,85,99,99,99,0,99,92,99,99,99,99,99,99,99,99,99,0,99,0,0,99,0,0,0,0,0,99,0],"p":[1,0,1,0,0,0,0,0,1]},
{"s":"HP65","src":"Asymptomatic carrier","st":"ST3 (RT001, RT009)","cg":"CG4","h":[99,99,99,93,99,84,99,99,99,96,99,99,99,99,93,85,85,99,99,95,99,85,85,99,99,94,94,94,94,94,99,99,99,99,99,85,85,99,99,99,0,99,92,99,99,99,99,99,99,99,99,99,0,99,0,0,99,0,0,0,0,0,99,0],"p":[1,0,1,0,0,0,0,0,1]},
{"s":"HP37","src":"Asymptomatic carrier","st":"ST3 (RT001, RT009)","cg":"CG4","h":[99,99,99,95,99,84,99,99,99,96,99,99,99,99,93,85,85,99,99,95,99,85,85,99,99,94,94,94,94,94,99,99,99,99,99,85,85,99,99,99,0,99,92,99,99,99,99,99,99,99,99,99,0,99,0,0,99,0,0,0,0,0,99,0],"p":[1,0,1,0,0,0,0,0,1]},
{"s":"HP59","src":"CDI patient","st":"ST3 (RT001, RT009)","cg":"","h":[99,99,99,95,99,84,99,99,99,96,99,99,99,99,93,85,85,99,99,95,99,85,85,99,99,94,94,94,94,94,99,99,99,99,99,85,85,99,99,99,0,99,92,99,99,99,99,99,99,99,99,99,0,99,0,0,99,0,0,0,90,97,0,0],"p":[0,0,0,0,0,0,0,1,0]},
{"s":"HP61","src":"CDI patient","st":"ST3 (RT001, RT009)","cg":"","h":[99,99,99,95,99,84,99,99,99,96,99,99,99,99,93,85,85,99,99,95,99,85,85,99,99,94,94,94,94,94,99,99,99,99,99,85,85,99,99,99,0,99,92,99,99,99,99,99,99,99,99,99,0,99,0,0,99,0,0,0,90,97,0,0],"p":[0,0,0,0,0,1,0,1,1]},
{"s":"HP18","src":"Asymptomatic carrier","st":"ST3 (RT001, RT009)","cg":"CG2","h":[99,99,99,95,99,84,99,99,99,96,99,99,99,99,93,85,85,99,99,95,99,85,85,99,99,94,94,94,94,94,99,99,99,99,99,85,85,99,99,99,0,99,92,99,99,99,99,99,99,99,99,99,0,99,0,0,99,0,0,0,90,97,0,0],"p":[0,0,0,0,0,1,0,1,0]},
{"s":"HP60","src":"CDI patient","st":"ST3 (RT001, RT009)","cg":"CG2","h":[99,99,99,95,99,84,99,99,99,96,99,99,99,99,93,85,85,99,99,95,99,85,85,99,99,94,94,94,94,94,99,99,99,99,99,85,85,99,99,99,0,99,92,99,99,99,99,99,99,99,99,99,0,99,0,0,99,0,0,0,90,97,0,0],"p":[0,0,0,0,0,1,0,1,0]},
{"s":"HE8","src":"Hospital-environment","st":"ST3 (RT001, RT009)","cg":"CG2","h":[99,99,99,95,99,84,99,99,99,96,99,99,99,99,93,85,85,99,99,95,99,85,85,99,99,94,94,94,94,94,99,99,99,99,99,85,85,99,99,99,0,99,92,99,99,99,99,99,99,99,99,99,0,99,0,0,99,0,0,0,90,97,0,0],"p":[0,0,0,0,0,1,0,1,0]},
{"s":"HP56","src":"Asymptomatic carrier","st":"ST3 (RT001, RT009)","cg":"CG3","h":[99,99,99,95,99,84,99,99,99,96,99,99,99,99,93,85,85,99,99,95,99,85,85,99,99,94,94,94,94,94,99,99,99,99,99,85,85,99,99,99,0,99,92,99,99,99,99,99,99,99,99,99,0,99,0,0,99,0,0,0,90,97,0,0],"p":[0,0,0,0,0,1,0,1,0]},
{"s":"HP47","src":"Asymptomatic carrier","st":"ST3 (RT001, RT009)","cg":"CG3","h":[99,99,99,95,99,84,99,99,99,96,99,99,99,99,93,85,85,99,99,95,99,85,85,99,99,94,94,94,94,94,99,99,99,99,99,85,85,99,99,99,0,99,92,99,99,99,99,99,99,99,99,99,0,99,0,0,99,0,0,0,90,97,0,0],"p":[0,0,0,0,0,1,0,1,0]},
{"s":"HP28","src":"Asymptomatic carrier","st":"ST3 (RT001, RT009)","cg":"CG3","h":[99,99,99,95,99,84,99,99,99,96,99,99,99,99,93,85,85,99,99,95,99,85,85,99,99,94,94,94,94,94,99,99,99,99,99,85,85,99,99,99,0,99,92,99,99,99,99,99,99,99,99,99,0,99,0,0,99,0,0,0,90,97,0,0],"p":[0,0,0,0,0,1,0,1,0]},
{"s":"HP51","src":"Asymptomatic carrier","st":"ST3 (RT001, RT009)","cg":"CG3","h":[99,99,99,95,99,84,99,99,99,96,99,99,99,99,93,85,85,99,99,95,99,85,85,99,99,94,94,94,94,94,99,99,99,99,99,85,85,99,99,99,0,99,92,99,99,99,99,99,99,99,99,99,0,99,0,0,99,0,0,0,90,97,0,0],"p":[0,0,0,0,0,1,0,1,0]},
{"s":"HP4","src":"Asymptomatic carrier","st":"ST3 (RT001, RT009)","cg":"CG3","h":[99,99,99,95,99,84,99,99,99,96,99,99,99,99,93,85,85,99,99,95,99,85,85,99,99,94,94,94,94,94,99,99,99,99,99,85,85,99,99,99,0,99,92,99,99,99,99,99,99,99,99,99,0,99,0,0,99,0,0,0,90,97,0,0],"p":[0,0,0,0,0,1,0,1,0]},
{"s":"HP58","src":"Asymptomatic carrier","st":"ST3 (RT001, RT009)","cg":"CG3","h":[99,99,99,95,99,84,99,99,99,96,99,99,99,99,93,85,85,99,99,95,99,85,85,99,99,94,94,94,94,94,99,99,99,99,99,85,85,99,99,99,0,99,92,99,99,99,99,99,99,99,99,99,0,99,0,0,99,0,0,0,90,97,0,0],"p":[0,0,0,0,0,1,0,1,0]}
]},
"layer":[
{"data":{"name":"samples"},"transform":[{"flatten":["h"]},{"window":[{"op":"row_number","as":"i"}],"groupby":["s"]},{"lookup":"i","from":{"data":{"name":"genes"},"key":"i","fields":["g"]}}],"mark":{"type":"rect","stroke":"#a4a4a4","strokeWidth":0.6},"encoding":{
"x":{"field":"g","type":"nominal","sort":null,"scale":{"range":[45.3,453.7]},"axis":{"orient":"top","offset":-43,"labelAngle":270,"labelAlign":"left","labelBaseline":"middle","labelFontSize":4.5}},
"y":{"field":"s","type":"nominal","sort":null,"scale":{"range":[63,592]},"axis":{"orient":"left","offset":-16,"labelFontSize":5.6,"labelAlign":"right"}},
"strokeOpacity":{"condition":{"test":"datum.h==0","value":1},"value":0.35},
"color":{"condition":{"test":"datum.h==0","value":"#ffffff"},"field":"h","type":"quantitative","scale":{"domain":[80,85,90,95,100],"range":["#1a0a8c","#4b0a82","#840a6e","#ae1f4c","#c92f2f"],"clamp":true},"legend":{"title":"Identity","legendX":649.5,"legendY":315,"gradientLength":65,"gradientThickness":8,"values":[100,95,90,85,80],"labelOffset":3,"titlePadding":3}}}},
{"data":{"name":"samples"},"transform":[{"flatten":["p"]},{"window":[{"op":"row_number","as":"i"}],"groupby":["s"]},{"lookup":"i","from":{"data":{"name":"mges"},"key":"i","fields":["g"]}}],"mark":{"type":"rect","stroke":"#b0b0b0","strokeWidth":0.6},"encoding":{
"x":{"field":"g","type":"nominal","sort":null,"scale":{"range":[459.7,517.3]},"axis":{"orient":"top","offset":-43,"labelAngle":270,"labelAlign":"left","labelBaseline":"middle","labelFontSize":4.5}},
"y":{"field":"s","type":"nominal","sort":null,"scale":{"range":[63,592]},"axis":null},
"color":{"field":"p","type":"nominal","scale":{"domain":[0,1],"range":["#ffffff","#a52f2f"]},"legend":{"title":"Presence/absence","legendX":650,"legendY":261,"symbolType":"square","symbolSize":80,"rowPadding":1,"titlePadding":8,"labelExpr":"datum.value==1?'Presence':'Absence'"}}}},
{"data":{"name":"samples"},"mark":{"type":"rect"},"encoding":{
"x":{"datum":"Source","type":"nominal","scale":{"domain":["Source"],"range":[21.7,26.3]},"axis":{"orient":"bottom","offset":-21,"labelAngle":270,"labelAlign":"right","labelBaseline":"middle","labelFontSize":7}},
"y":{"field":"s","type":"nominal","sort":null,"scale":{"range":[63,592]},"axis":null},
"color":{"field":"src","type":"nominal","scale":{"domain":["Animal","Asymptomatic carrier","CDI patient","Hospital-environment","Soil","Farmer"],"range":["#f89aa0","#a080d8","#f00a0a","#5ed4a0","#fad090","#c0b0a8"]},"legend":{"title":"Source","legendX":560,"legendY":62.5,"symbolType":"square","symbolSize":72,"rowPadding":0.1}}}},
{"data":{"name":"samples"},"mark":{"type":"rect"},"encoding":{
"x":{"datum":"ST","type":"nominal","scale":{"domain":["ST"],"range":[28,32.7]},"axis":{"orient":"bottom","offset":-21,"labelAngle":270,"labelAlign":"right","labelBaseline":"middle","labelFontSize":7}},
"y":{"field":"s","type":"nominal","sort":null,"scale":{"range":[63,592]},"axis":null},
"color":{"field":"st","type":"nominal","scale":{"domain":["ST109 (RT829)","ST118 (Unknown)","ST124 (Unknown)","ST129 (RT633)","ST14 (RT014)","ST15 (RT010)","ST2 (RT014)","ST233 (RT418)","ST26 (RT039)","ST29 (RT031)","ST3 (RT001, RT009)","ST35 (RT046)","ST37 (RT017)","ST39 (RT085)","ST42 (RT106)","ST48 (RT596)","ST54 (RT012)","ST670 (RT001)","ST8 (RTAI-75, RT002)","ST81 (RT040)"],"range":["#6a0a78","#fbcdb8","#d98673","#0a0a8c","#dcd432","#ebe8b4","#e0cff0","#f4a5b5","#1a5e42","#10c8ff","#943c0a","#e0456a","#9a0aee","#e8a020","#6a9a0a","#10f59a","#62c0c8","#6a96b8","#ff9cf8","#3a9aff"]},"legend":{"title":"MLST (RT)","legendX":560,"legendY":131,"symbolType":"square","symbolSize":72,"rowPadding":0.6,"columns":1,"symbolLimit":30}}}},
{"data":{"name":"samples"},"mark":{"type":"circle","size":18,"opacity":1},"encoding":{
"x":{"datum":"CG","type":"nominal","scale":{"domain":["CG"],"range":[34.4,39.6]},"axis":{"orient":"bottom","offset":-21,"labelAngle":270,"labelAlign":"right","labelBaseline":"middle","labelFontSize":7}},
"y":{"field":"s","type":"nominal","sort":null,"scale":{"range":[63,592]},"axis":null},
"opacity":{"condition":{"test":"datum.cg==''","value":0},"value":1},
"color":{"field":"cg","type":"nominal","scale":{"domain":["CG1","CG2","CG3","CG4","CG5","CG6","CG7","CG8","CG9","CG10","CG11","CG12","CG13","CG14","CG15","CG16","CG17","CG18"],"range":["#ffd24f","#c07a1a","#f58cc0","#8f3d10","#f6a0f0","#1a5e42","#d9506a","#9010f0","#e8a030","#6a9a10","#70f8d8","#40f090","#3090f0","#80d8c8","#10c8ff","#40e8ff","#6a0a68","#d88870"]},"legend":{"title":"CG","legendX":560,"legendY":338,"symbolType":"circle","symbolSize":30,"titleFontSize":8.5,"labelFontSize":5.8,"labelOffset":3,"rowPadding":1.5,"symbolLimit":30}}}},
{"data":{"name":"genes"},"mark":{"type":"rect"},"encoding":{
"x":{"field":"g","type":"nominal","sort":null,"scale":{"range":[45.3,453.7]},"axis":null},
"y":{"datum":"Category","type":"nominal","scale":{"domain":["Category"],"range":[47,52]},"axis":{"orient":"left","offset":-41,"labelFontSize":7.2,"labelPadding":0}},
"color":{"field":"cat","type":"nominal","scale":{"domain":["Antimicrobial resistance genes","Virulence genes"],"range":["#e0640a","#1f9e78"]},"legend":{"title":"Category","legendX":650,"legendY":64,"symbolType":"square","symbolSize":80,"rowPadding":1}}}},
{"data":{"name":"genes"},"mark":{"type":"rect"},"encoding":{
"x":{"field":"g","type":"nominal","sort":null,"scale":{"range":[45.3,453.7]},"axis":null},
"y":{"datum":"Gene class","type":"nominal","scale":{"domain":["Gene class"],"range":[53.7,58.3]},"axis":{"orient":"left","offset":-41,"labelFontSize":7.2,"labelPadding":0}},
"color":{"field":"cls","type":"nominal","scale":{"domain":["Adherence","Enzyme","Secretion system","Toxin","Aminoglycoside","Erythromycin","Multidrug","Phenicol","Tetracycline","Trimethoprim"],"range":["#e08a80","#1f78b4","#b2df8a","#33a02c","#c8b420","#e31a1c","#fdbf6f","#ff7f00","#cab2d6","#6a3d9a"]},"legend":{"title":"Gene class","legendX":650,"legendY":106,"symbolType":"square","symbolSize":72,"rowPadding":0.6}}}},
{"data":{"name":"mges"},"mark":{"type":"rect"},"encoding":{
"x":{"field":"g","type":"nominal","sort":null,"scale":{"range":[459.7,517.3]},"axis":null},
"y":{"datum":"MGEs class","type":"nominal","scale":{"domain":["MGEs class"],"range":[53.7,58.3]},"axis":{"orient":"right","offset":-228,"labelFontSize":7.2,"labelAlign":"left"}},
"color":{"field":"mge","type":"nominal","scale":{"domain":["Transposon","Plasmid"],"range":["#8f7fd0","#5a8070"]},"legend":{"title":"MGEs class","legendX":650,"legendY":220,"symbolType":"square","symbolSize":72,"labelOffset":3,"rowPadding":1}}}}
],
"resolve":{"scale":{"x":"independent","y":"independent","color":"independent"},"axis":{"x":"independent","y":"independent"},"legend":{"color":"independent"}}}
